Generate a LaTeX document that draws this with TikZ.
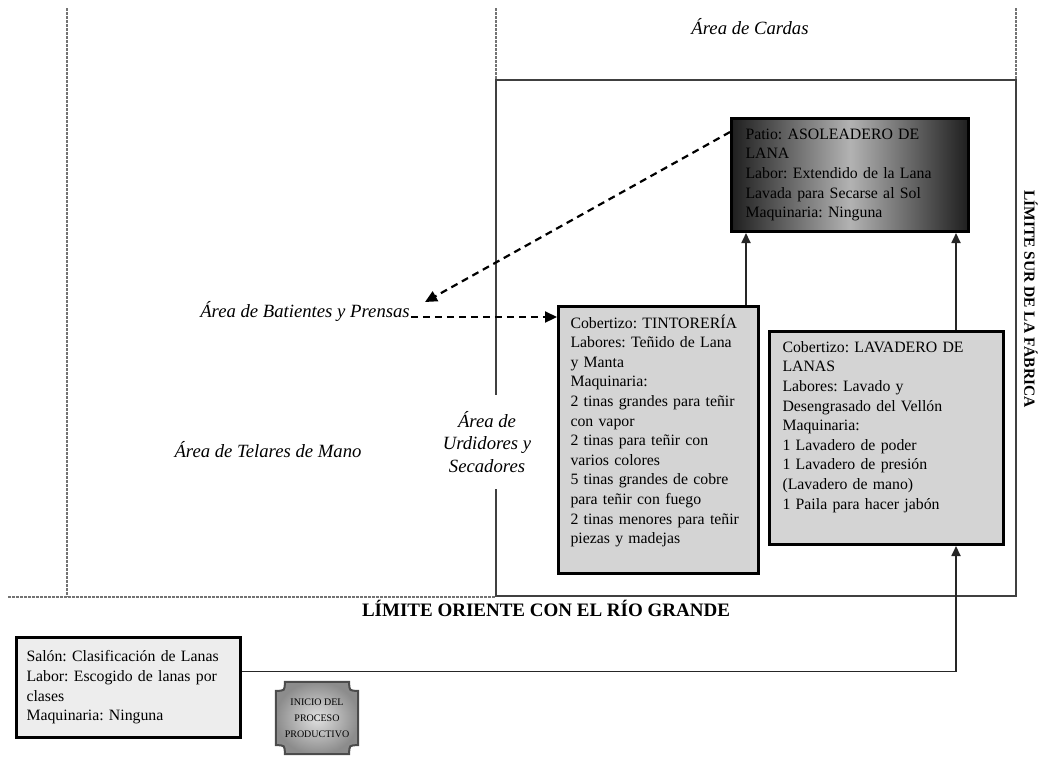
\documentclass[tikz,border=0pt]{standalone}
\usepackage{fontspec}
\setmainfont{Liberation Serif}
\usetikzlibrary{arrows.meta,calc,backgrounds}
\frenchspacing
\hyphenpenalty=10000
\exhyphenpenalty=10000
\begin{document}
\begin{tikzpicture}[x=1pt,y=-1pt,
  bound/.style={draw=black!55, line width=1.3pt, dash pattern=on 2.5pt off 1.5pt},
  region/.style={draw=black!75, line width=2pt},
  box/.style={draw=black, line width=3pt, anchor=north west, align=left,
     inner ysep=0pt, font=\fontsize{15.8}{19.6}\selectfont},
  lab/.style={font=\fontsize{18.7}{22.5}\selectfont\itshape, inner sep=1pt},
  conn/.style={draw=black!85, line width=1.8pt, -{Triangle[length=10pt,width=9pt]}},
  dconn/.style={draw=black, line width=2.2pt, dash pattern=on 7pt off 5pt,
     -{Triangle[length=12pt,width=11pt]}},
  inicioshape/.style={draw=black!70, line width=2pt, inner color=black!12, outer color=black!45}
]
\useasboundingbox (0,0) rectangle (1043,756);

% boundaries and areas
\draw[bound] (67,8) -- (67,597);
\draw[bound] (8,597) -- (496,597);
\draw[bound] (496,8) -- (496,80);
\draw[bound] (1016,8) -- (1016,80);
\draw[region] (496,80) rectangle (1016,596);

% area labels
\node[lab] (cardas) at (750,27) {Área de Cardas};
\node[lab, anchor=base] (batientes) at (305,317) {Área de Batientes y Prensas};
\node[lab] (telares) at (268,450) {Área de Telares de Mano};
\node[lab, fill=white, align=center, inner xsep=2pt, inner ysep=16pt] (urdidores) at (487,442) {Área de\\Urdidores y\\Secadores};
\node[font=\fontsize{19}{22}\selectfont\bfseries] (oriente) at (546,608) {LÍMITE ORIENTE CON EL RÍO GRANDE};
\node[font=\fontsize{15.5}{18}\selectfont\bfseries, rotate=-90] (sur) at (1031,299) {LÍMITE SUR DE LA FÁBRICA};

% process boxes
\node[box, inner xsep=14pt, text width=209pt, minimum width=237pt, minimum height=113pt,
  left color=black!88, right color=black!88, middle color=black!30] (asol) at (730,117)
  {Patio: ASOLEADERO DE\\LANA\\Labor: Extendido de la Lana\\Lavada para Secarse al Sol\\Maquinaria: Ninguna};

\node[box, fill=black!17, inner xsep=12pt, text width=176pt, minimum width=200pt, minimum height=267pt] (tint) at (557,305)
  {Cobertizo: TINTORERÍA\\Labores: Teñido de Lana\\y Manta\\Maquinaria:\\2 tinas grandes para teñir\\con vapor\\2 tinas para teñir con\\varios colores\\5 tinas grandes de cobre\\para teñir con fuego\\2 tinas menores para teñir\\piezas y madejas\\[2pt]\mbox{}};

\node[box, fill=black!17, inner xsep=13pt, text width=208pt, minimum width=234pt, minimum height=213pt] (lav) at (768,330)
  {Cobertizo: LAVADERO DE\\LANAS\\Labores: Lavado y\\Desengrasado del Vellón\\Maquinaria:\\1 Lavadero de poder\\1 Lavadero de presión\\(Lavadero de mano)\\1 Paila para hacer jabón\\[6pt]\mbox{}};

\node[box, fill=black!7, inner xsep=10pt, text width=204pt, minimum width=224pt, minimum height=100pt] (salon) at (15,636)
  {Salón: Clasificación de Lanas\\Labor: Escogido de lanas por\\clases\\Maquinaria: Ninguna};

\node[align=center, minimum width=82pt, minimum height=72pt, inner sep=0pt,
  font=\fontsize{10}{16}\selectfont] (inicio) at (317,718) {INICIO DEL\\PROCESO\\PRODUCTIVO};
\begin{scope}[on background layer]
\path[inicioshape] ($(inicio.north west)+(9,0)$) -- ($(inicio.north east)+(-9,0)$)
  .. controls ($(inicio.north east)+(-9,9)$) .. ($(inicio.north east)+(0,9)$)
  -- ($(inicio.south east)+(0,-9)$)
  .. controls ($(inicio.south east)+(-9,-9)$) .. ($(inicio.south east)+(-9,0)$)
  -- ($(inicio.south west)+(9,0)$)
  .. controls ($(inicio.south west)+(9,-9)$) .. ($(inicio.south west)+(0,-9)$)
  -- ($(inicio.north west)+(0,9)$)
  .. controls ($(inicio.north west)+(9,9)$) .. ($(inicio.north west)+(9,0)$) -- cycle;
\end{scope}

% connectors
\coordinate (t1) at ($(tint.north east)+(-14,0)$);
\draw[conn] (t1) -- (t1 |- asol.south);
\coordinate (l1) at ($(lav.north east)+(-49,0)$);
\draw[conn] (l1) -- (l1 |- asol.south);
\coordinate (l2) at ($(lav.south east)+(-49,0)$);
\draw[conn] ($(salon.east)+(0,-16)$) -| (l2);

\coordinate (batarrow) at (425,302);
\draw[dconn] ($(asol.north west)+(0,15)$) -- (batarrow);
\draw[dconn] (batientes.base east) -- (batientes.base east -| tint.west);
\end{tikzpicture}
\end{document}
